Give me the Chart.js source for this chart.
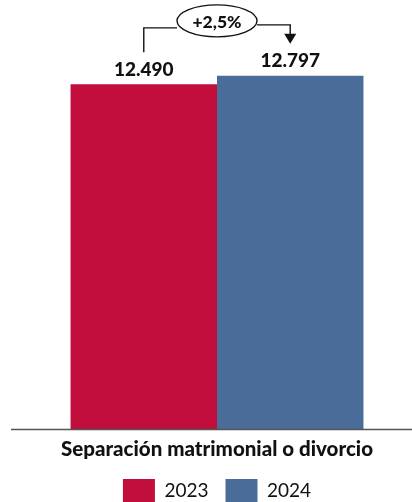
<!DOCTYPE html>
<html>
<head>
<meta charset="utf-8">
<script src="https://cdn.jsdelivr.net/npm/chart.js@4.4.1/dist/chart.umd.min.js"></script>
<style>
  html, body { margin: 0; padding: 0; background: #fff; }
  #wrap { width: 412px; height: 502px; position: relative; }
</style>
</head>
<body>
<div id="wrap"><canvas id="chart"></canvas></div>
<script>
const categories = ['Separación matrimonial o divorcio'];
const years = ['2023', '2024'];
const values2023 = [12490];
const values2024 = [12797];
const changeLabel = '+2,5%';

const colors = ['#C20E3C', '#4A6C99'];

const fmt = (v) => v.toLocaleString('de-DE');

const annotate = {
    id: 'annotate',
    afterDatasetsDraw(chart) {
        const ctx = chart.ctx;
        const b0 = chart.getDatasetMeta(0).data[0];
        const b1 = chart.getDatasetMeta(1).data[0];
        ctx.save();
        ctx.fillStyle = '#111';
        ctx.font = '900 19px Lato';
        ctx.textAlign = 'center';
        ctx.textBaseline = 'bottom';
        ctx.fillText(fmt(values2023[0]), b0.x, b0.y - 5);
        ctx.fillText(fmt(values2024[0]), b1.x, b1.y - 5);

        // bracket with change
        const cx = (b0.x + b1.x) / 2;
        const cy = b1.y - 55;
        const rx = 40, ry = 16;
        ctx.strokeStyle = '#111';
        ctx.lineWidth = 1.4;
        ctx.beginPath();
        ctx.moveTo(b0.x, b0.y - 32);
        ctx.lineTo(b0.x, cy + 7);
        ctx.lineTo(cx - rx, cy + 7);
        ctx.stroke();
        ctx.beginPath();
        ctx.moveTo(cx + rx, cy + 4);
        ctx.lineTo(b1.x, cy + 4);
        ctx.lineTo(b1.x, b1.y - 40);
        ctx.stroke();
        ctx.fillStyle = '#111';
        ctx.beginPath();
        ctx.moveTo(b1.x - 6, b1.y - 42);
        ctx.lineTo(b1.x + 6, b1.y - 42);
        ctx.lineTo(b1.x, b1.y - 32);
        ctx.closePath();
        ctx.fill();
        ctx.beginPath();
        ctx.ellipse(cx, cy, rx, ry, 0, 0, Math.PI * 2);
        ctx.fillStyle = '#fff';
        ctx.fill();
        ctx.stroke();
        ctx.fillStyle = '#111';
        ctx.font = '900 17.5px Lato';
        ctx.textBaseline = 'middle';
        ctx.fillText(changeLabel, cx, cy + 1);

        // baseline
        const yb = chart.chartArea.bottom;
        ctx.strokeStyle = '#555';
        ctx.lineWidth = 1.5;
        ctx.beginPath();
        ctx.moveTo(11, yb);
        ctx.lineTo(412, yb);
        ctx.stroke();
        ctx.restore();
    }
};

new Chart(document.getElementById('chart'), {
    type: 'bar',
    data: {
        labels: categories,
        datasets: [
            { label: years[0], data: values2023, backgroundColor: colors[0] },
            { label: years[1], data: values2024, backgroundColor: colors[1] }
        ]
    },
    options: {
        responsive: true,
        maintainAspectRatio: false,
        animation: false,
        layout: { padding: { left: 22, right: 0, top: 15, bottom: -10 } },
        datasets: { bar: { categoryPercentage: 0.751, barPercentage: 1 } },
        scales: {
            y: { display: false, min: 0, max: 15000 },
            x: {
                grid: { display: false },
                border: { display: false },
                ticks: { color: '#111', font: { family: 'Lato', size: 20.5, weight: '900' }, padding: 0 }
            }
        },
        plugins: {
            legend: {
                position: 'bottom',
                labels: {
                    boxWidth: 32, boxHeight: 23, padding: 17,
                    color: '#111',
                    font: { family: 'Lato', size: 19 }
                }
            },
            tooltip: { enabled: false }
        }
    },
    plugins: [annotate]
});
</script>
</body>
</html>
